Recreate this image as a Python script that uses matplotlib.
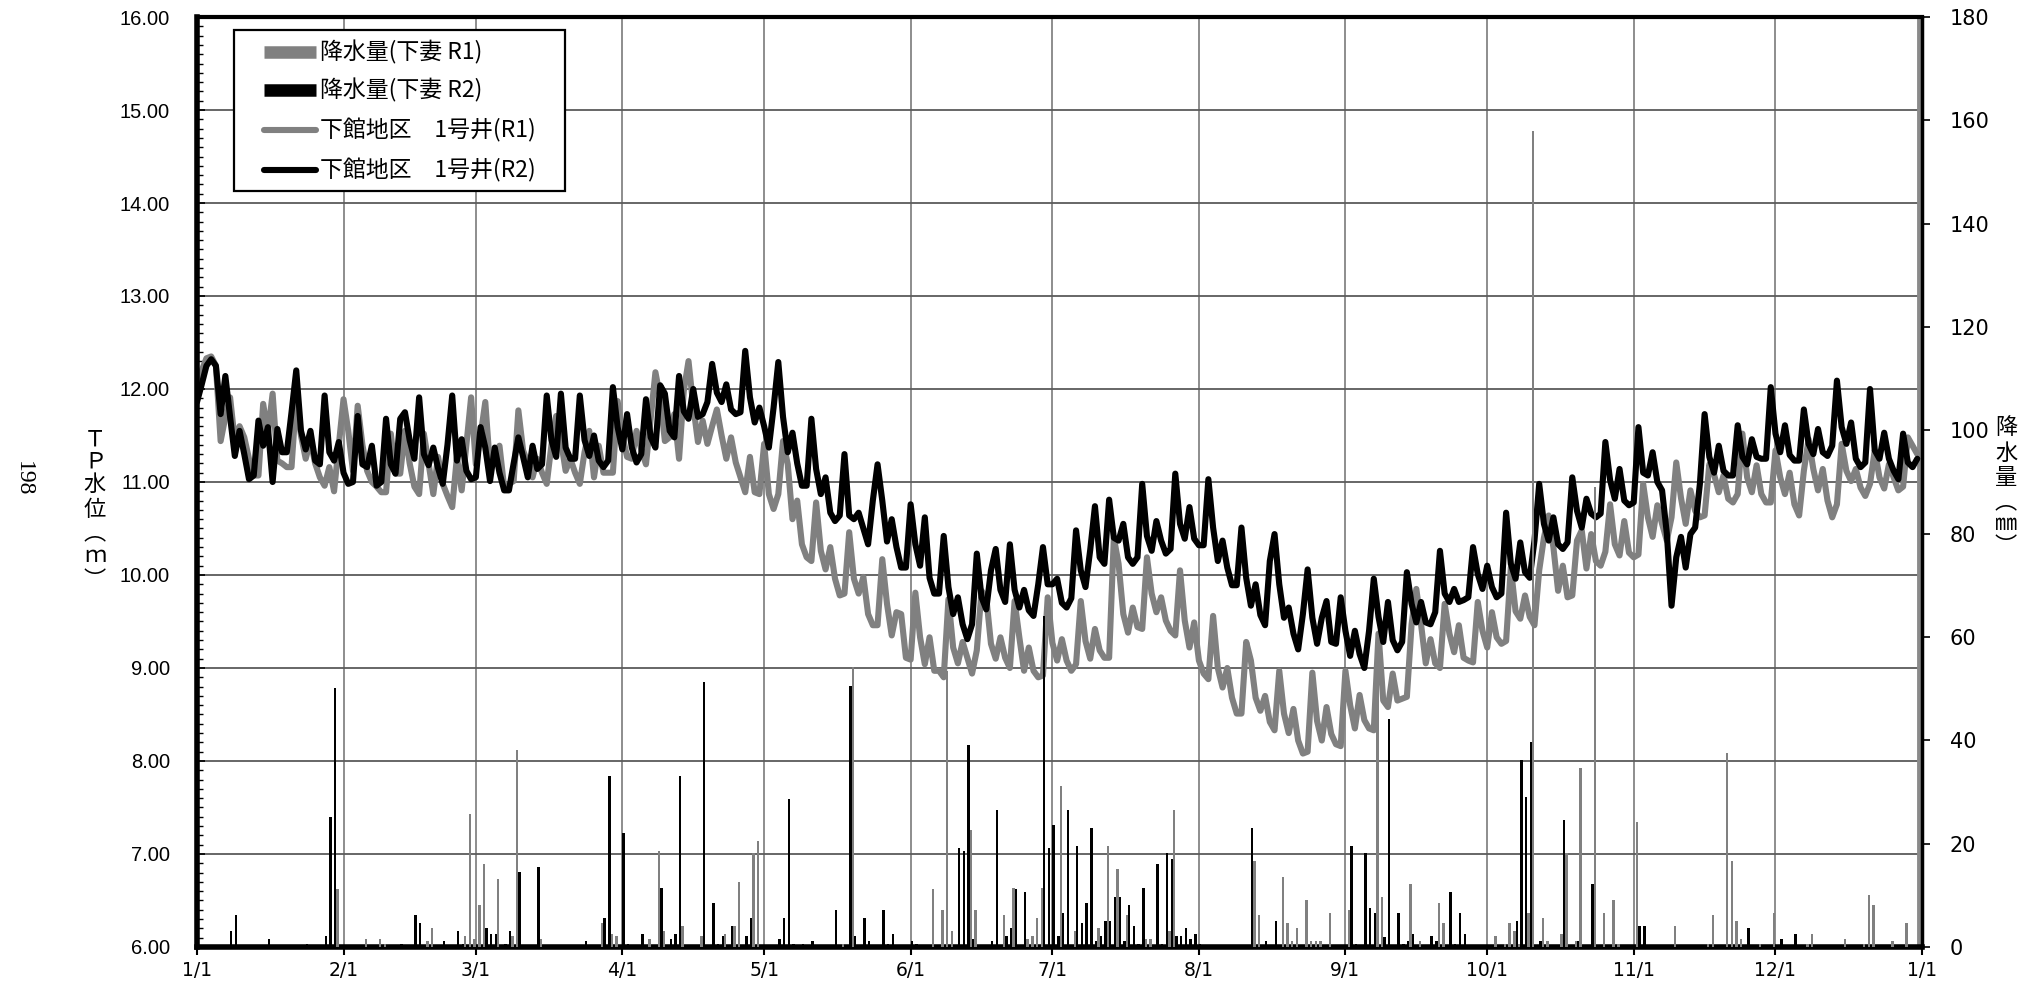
import numpy as np
import matplotlib
matplotlib.use('Agg')
import matplotlib.pyplot as plt
from matplotlib.lines import Line2D
from matplotlib.patches import Rectangle
from matplotlib.ticker import MultipleLocator, FormatStrFormatter

JP = ['Noto Sans CJK JP', 'DejaVu Sans']
plt.rcParams['font.family'] = JP

# ---------------- data ----------------
month_labels = ['1/1', '2/1', '3/1', '4/1', '5/1', '6/1', '7/1', '8/1', '9/1',
                '10/1', '11/1', '12/1', '1/1']
month_lengths = [31, 28, 31, 30, 31, 30, 31, 31, 30, 31, 30, 31]

# 下館地区 1号井 (R2) daily water level, TP m
r2_jan = [11.86, 12.05, 12.25, 12.32, 12.25, 11.73, 12.14, 11.70, 11.28, 11.55, 11.30, 11.03, 11.07, 11.66, 11.39, 11.59,
          11.00, 11.57, 11.32, 11.32, 11.75, 12.20, 11.55, 11.35, 11.55, 11.23, 11.19, 11.93, 11.32, 11.23, 11.43]
r2_feb = [11.10, 10.98, 11.00, 11.71, 11.19, 11.16, 11.39, 10.96, 11.00, 11.68, 11.19, 11.09, 11.68, 11.75, 11.45, 11.25,
          11.91, 11.30, 11.18, 11.37, 11.15, 10.98, 11.40, 11.93, 11.23, 11.46, 11.12, 11.03]
r2_mar = [11.05, 11.59, 11.37, 11.01, 11.37, 11.10, 10.91, 10.91, 11.20, 11.48, 11.27, 11.05, 11.39, 11.14, 11.19, 11.93,
          11.45, 11.27, 11.95, 11.37, 11.25, 11.25, 11.93, 11.45, 11.28, 11.50, 11.23, 11.16, 11.23, 12.02, 11.59]
r2_apr = [11.35, 11.73, 11.37, 11.21, 11.30, 11.89, 11.48, 11.37, 12.04, 11.95, 11.55, 11.48, 12.14, 11.76, 11.68, 12.00,
          11.70, 11.73, 11.86, 12.27, 11.96, 11.86, 12.05, 11.78, 11.73, 11.75, 12.41, 11.91, 11.64, 11.80]
r2_may = [11.60, 11.37, 11.80, 12.29, 11.70, 11.32, 11.53, 11.20, 10.96, 10.96, 11.68, 11.14, 10.87, 11.05, 10.67, 10.58,
          10.64, 11.30, 10.64, 10.60, 10.67, 10.50, 10.33, 10.80, 11.19, 10.80, 10.36, 10.60, 10.30, 10.08, 10.08]
r2_jun = [10.76, 10.33, 10.10, 10.62, 9.97, 9.80, 9.80, 10.42, 9.87, 9.58, 9.76, 9.47, 9.31, 9.47, 10.23, 9.76,
          9.63, 10.05, 10.28, 9.84, 9.71, 10.33, 9.84, 9.65, 9.84, 9.62, 9.56, 9.90, 10.30, 9.90]
r2_jul = [9.90, 9.96, 9.70, 9.65, 9.75, 10.48, 10.05, 9.87, 10.27, 10.74, 10.19, 10.12, 10.81, 10.40, 10.37, 10.55,
          10.19, 10.12, 10.19, 10.98, 10.42, 10.26, 10.58, 10.37, 10.23, 10.28, 11.09, 10.55, 10.39, 10.73, 10.39]
r2_aug = [10.32, 10.32, 11.03, 10.51, 10.15, 10.37, 10.08, 9.89, 9.89, 10.51, 9.97, 9.67, 9.90, 9.57, 9.46, 10.15,
          10.44, 9.90, 9.54, 9.65, 9.37, 9.20, 9.58, 10.06, 9.54, 9.26, 9.54, 9.72, 9.28, 9.26, 9.76]
r2_sep = [9.40, 9.13, 9.40, 9.15, 9.00, 9.40, 9.96, 9.55, 9.28, 9.71, 9.30, 9.19, 9.28, 10.03, 9.69, 9.49,
          9.71, 9.49, 9.47, 9.60, 10.26, 9.80, 9.71, 9.85, 9.71, 9.73, 9.76, 10.30, 10.01, 9.85]
r2_oct = [10.10, 9.87, 9.76, 9.80, 10.67, 10.12, 9.96, 10.35, 10.03, 9.97, 10.37, 10.98, 10.55, 10.37, 10.62, 10.33,
          10.28, 10.35, 11.05, 10.69, 10.51, 10.82, 10.66, 10.62, 10.66, 11.43, 11.02, 10.82, 11.14, 10.80, 10.75]
r2_nov = [10.78, 11.59, 11.10, 11.07, 11.32, 11.00, 10.91, 10.45, 9.67, 10.19, 10.41, 10.08, 10.44, 10.51, 10.98, 11.73,
          11.27, 11.10, 11.39, 11.12, 11.07, 11.07, 11.61, 11.27, 11.19, 11.46, 11.27, 11.25, 11.25, 12.02]
r2_dec = [11.52, 11.32, 11.61, 11.29, 11.23, 11.23, 11.78, 11.41, 11.30, 11.57, 11.32, 11.28, 11.39, 12.09, 11.59, 11.41,
          11.64, 11.25, 11.16, 11.21, 12.00, 11.34, 11.25, 11.53, 11.25, 11.12, 11.03, 11.52, 11.21, 11.16, 11.25]

# 下館地区 1号井 (R1) daily water level, TP m
r1_jan = [11.90, 12.20, 12.33, 12.35, 12.25, 11.44, 11.70, 11.91, 11.44, 11.60, 11.48, 11.25, 11.07, 11.07, 11.84, 11.52,
          11.95, 11.23, 11.20, 11.16, 11.16, 11.91, 11.50, 11.25, 11.45, 11.20, 11.05, 10.96, 11.16, 10.90, 11.40]
r1_feb = [11.89, 11.55, 11.12, 11.82, 11.40, 11.12, 11.00, 10.95, 10.89, 10.89, 11.52, 11.09, 11.09, 11.55, 11.20, 10.95,
          10.87, 11.52, 11.20, 10.87, 11.27, 10.98, 10.85, 10.73, 11.27, 10.91, 11.40, 11.91]
r1_mar = [11.19, 11.50, 11.86, 11.16, 11.30, 11.39, 10.94, 10.98, 11.01, 11.77, 11.34, 11.20, 11.05, 11.25, 11.10, 10.98,
          11.40, 11.71, 11.45, 11.12, 11.25, 11.10, 10.98, 11.32, 11.55, 11.05, 11.39, 11.10, 11.10, 11.10, 11.87]
r1_apr = [11.50, 11.27, 11.25, 11.55, 11.35, 11.19, 11.68, 12.18, 11.91, 11.44, 11.48, 11.73, 11.25, 11.98, 12.30, 11.82,
          11.43, 11.66, 11.41, 11.60, 11.78, 11.50, 11.25, 11.48, 11.21, 11.05, 10.89, 11.27, 10.89, 10.87]
r1_may = [11.41, 10.87, 10.71, 10.87, 11.44, 11.19, 10.60, 10.80, 10.33, 10.19, 10.15, 10.78, 10.26, 10.06, 10.30, 9.96,
          9.78, 9.80, 10.46, 9.96, 9.80, 9.98, 9.58, 9.46, 9.46, 10.17, 9.69, 9.35, 9.60, 9.58, 9.11]
r1_jun = [9.09, 9.81, 9.33, 9.04, 9.33, 8.97, 8.97, 8.90, 9.74, 9.22, 9.05, 9.28, 9.11, 8.94, 9.19, 9.83,
          9.76, 9.26, 9.10, 9.33, 9.11, 9.00, 9.72, 9.33, 8.97, 9.22, 8.97, 8.90, 8.92, 9.76]
r1_jul = [9.27, 9.08, 9.31, 9.08, 8.97, 9.04, 9.72, 9.29, 9.10, 9.42, 9.19, 9.11, 9.11, 10.40, 10.12, 9.58,
          9.38, 9.65, 9.44, 9.42, 10.19, 9.80, 9.60, 9.76, 9.51, 9.40, 9.35, 10.05, 9.51, 9.22, 9.49]
r1_aug = [9.08, 8.94, 8.88, 9.56, 9.00, 8.79, 9.00, 8.68, 8.51, 8.51, 9.28, 9.08, 8.68, 8.54, 8.70, 8.42,
          8.33, 8.97, 8.51, 8.30, 8.56, 8.22, 8.08, 8.10, 8.95, 8.43, 8.22, 8.58, 8.29, 8.18, 8.16]
r1_sep = [8.97, 8.60, 8.35, 8.71, 8.44, 8.35, 8.33, 9.37, 8.65, 8.58, 8.94, 8.65, 8.67, 8.69, 9.47, 9.85,
          9.47, 9.05, 9.31, 9.05, 9.00, 9.69, 9.37, 9.17, 9.46, 9.11, 9.08, 9.06, 9.71, 9.40]
r1_oct = [9.22, 9.60, 9.33, 9.26, 9.29, 10.08, 9.61, 9.53, 9.78, 9.55, 9.46, 10.05, 10.40, 10.64, 10.30, 9.83,
          10.10, 9.76, 9.78, 10.37, 10.48, 10.07, 10.44, 10.15, 10.10, 10.25, 10.76, 10.33, 10.21, 10.58, 10.24]
r1_nov = [10.19, 10.22, 10.98, 10.62, 10.41, 10.75, 10.55, 10.37, 10.62, 11.21, 10.83, 10.55, 10.91, 10.69, 10.62, 10.64,
          11.19, 11.08, 10.89, 11.07, 10.82, 10.78, 10.87, 11.52, 11.05, 10.89, 11.18, 10.87, 10.78, 10.78]
r1_dec = [11.34, 11.05, 10.87, 11.10, 10.76, 10.64, 11.12, 11.46, 11.14, 10.91, 11.14, 10.80, 10.62, 10.76, 11.41, 11.12,
          11.01, 11.14, 10.94, 10.85, 10.98, 11.34, 11.05, 10.93, 11.19, 11.05, 10.91, 10.95, 11.48, 11.39, 11.30]

# 降水量 (下妻 R1): day-of-year and mm
rain_r1_day = [30, 36, 39, 40, 49, 50, 57, 58, 59, 60, 61, 64, 67, 68, 73, 86, 88, 89, 96, 98, 99, 103, 107, 112, 114,
               115, 118, 119, 137, 139, 156, 158, 159, 160, 164, 165, 171, 173, 176, 177, 178, 179, 183, 186, 191, 193,
               195, 197, 201, 202, 206, 207, 224, 225, 230, 231, 232, 233, 235, 236, 237, 238, 240, 244, 250, 251, 257,
               259, 263, 264, 275, 277, 278, 279, 280, 282, 283, 285, 286, 289, 290, 292, 293, 296, 298, 300, 301, 305,
               313, 320, 321, 324, 325, 326, 327, 331, 334, 341, 342, 349, 353, 354, 355, 359, 362]
rain_r1_mm = [11.2, 1.6, 1.6, 0.6, 1.1, 3.6, 2.1, 25.7, 1.6, 8.1, 16.1, 13.1, 2.1, 38.1, 1.6, 4.6, 2.6, 2.1, 1.6, 18.6,
              3.1, 4.1, 2.1, 2.6, 4.1, 12.6, 18.1, 20.6, 0.6, 54.1, 11.2, 7.1, 53.5, 3.1, 22.6, 7.1, 6.1, 11.5, 1.6, 2.1,
              5.6, 11.5, 31.2, 3.1, 3.6, 19.6, 15.1, 6.1, 1.6, 1.6, 3.1, 26.6, 16.6, 6.1, 13.6, 4.6, 1.1, 3.6, 9.1, 1.1,
              1.1, 1.1, 6.6, 7.1, 53.5, 9.6, 12.1, 1.1, 8.6, 4.6, 2.1, 0.6, 4.6, 3.1, 0.6, 6.5, 158.0, 5.6, 1.1, 2.6,
              18.1, 1.1, 34.7, 89.0, 6.6, 9.1, 0.6, 24.1, 4.1, 0.6, 6.1, 37.6, 16.6, 5.0, 1.6, 0.6, 6.6, 0.6, 2.6, 1.6,
              0.6, 10.1, 8.1, 1.1, 4.6]

# 降水量 (下妻 R2): day-of-year and mm
rain_r2_day = [7, 8, 15, 23, 27, 28, 29, 43, 46, 47, 52, 55, 56, 60, 61, 62, 63, 65, 66, 68, 72, 82, 86, 87, 90, 91, 94,
               98, 100, 101, 102, 107, 109, 110, 111, 113, 116, 117, 123, 124, 125, 126, 128, 130, 135, 138, 139, 141,
               142, 145, 146, 147, 151, 152, 161, 162, 163, 164, 168, 169, 171, 172, 173, 175, 179, 180, 181, 182, 183,
               184, 186, 187, 188, 189, 190, 191, 192, 193, 194, 195, 196, 197, 198, 199, 200, 203, 204, 205, 206, 207,
               208, 209, 210, 211, 212, 223, 226, 228, 244, 245, 247, 248, 249, 251, 252, 254, 255, 256, 257, 261, 262,
               265, 266, 267, 268, 279, 280, 281, 282, 284, 289, 292, 295, 305, 306, 328, 335, 338]
rain_r2_mm = [3.1, 6.1, 1.6, 0.5, 2.1, 25.1, 50.2, 0.6, 6.1, 4.6, 1.1, 3.1, 0.6, 0.4, 3.6, 2.6, 2.6, 0.6, 3.1, 14.6, 15.5,
              1.1, 5.6, 33.1, 22.1, 0.6, 2.6, 11.5, 1.6, 2.6, 33.1, 51.2, 8.6, 0.6, 2.1, 4.1, 2.1, 5.6, 1.6, 5.6, 28.6,
              0.6, 0.6, 1.1, 7.1, 50.6, 2.1, 5.6, 1.1, 7.1, 0.6, 2.6, 1.1, 0.6, 19.1, 18.6, 39.1, 1.6, 1.1, 26.6, 2.1,
              3.6, 11.2, 10.6, 64.0, 19.1, 23.6, 2.1, 6.6, 26.6, 19.6, 4.6, 8.6, 23.1, 1.1, 2.1, 5.0, 5.0, 9.6, 9.6,
              1.1, 8.1, 4.1, 0.6, 11.5, 16.1, 0.6, 18.1, 17.1, 2.1, 2.1, 3.6, 1.6, 2.6, 0.6, 23.1, 1.1, 5.0, 19.6, 0.6,
              18.1, 7.6, 6.6, 2.0, 44.1, 6.6, 0.6, 1.1, 2.6, 2.1, 1.1, 10.6, 0.6, 6.6, 2.6, 5.0, 36.2, 29.1, 39.6, 1.1,
              24.6, 1.1, 12.1, 4.1, 4.1, 3.6, 1.6, 2.6]

legend_labels = ['降水量(下妻 R1)', '降水量(下妻 R2)', '下館地区　1号井(R1)', '下館地区　1号井(R2)']

# ---------------- build ----------------
r1_level = np.array(r1_jan + r1_feb + r1_mar + r1_apr + r1_may + r1_jun +
                    r1_jul + r1_aug + r1_sep + r1_oct + r1_nov + r1_dec)
r2_level = np.array(r2_jan + r2_feb + r2_mar + r2_apr + r2_may + r2_jun +
                    r2_jul + r2_aug + r2_sep + r2_oct + r2_nov + r2_dec)
days = np.arange(len(r2_level))
month_starts = np.concatenate([[0], np.cumsum(month_lengths)])

GRAY = '#808080'
W, H = 2036.0, 989.0

fig = plt.figure(figsize=(20.36, 9.89), dpi=100)
ax = fig.add_axes([0.09676, 0.04247, 0.84725, 0.94034])
ax.set_xlim(0, 365)
ax.set_ylim(6, 16)

# grid
for x in month_starts[1:-1]:
    ax.axvline(x, color='#858585', lw=1.3, zorder=0.5)
for y in range(7, 16):
    ax.axhline(y, color='#5a5a5a', lw=1.3, zorder=0.5)
ax.axvline(364.4, color='#8a8a8a', lw=3.5, zorder=0.5)

ax.plot(days, r1_level, color=GRAY, lw=4.4, solid_joinstyle='round', solid_capstyle='round', zorder=2)
ax.plot(days, r2_level, color='black', lw=4.4, solid_joinstyle='round', solid_capstyle='round', zorder=3)

ax.set_xticks(month_starts)
ax.set_xticklabels(month_labels, fontsize=13.5, family=['DejaVu Sans'])
ax.tick_params(axis='x', direction='out', length=6, width=1.5, pad=4)
ax.yaxis.set_major_locator(MultipleLocator(1))
ax.yaxis.set_minor_locator(MultipleLocator(0.1))
ax.yaxis.set_major_formatter(FormatStrFormatter('%.2f'))
ax.tick_params(axis='y', which='major', direction='in', length=6, width=1.2, pad=19.5, labelsize=14.5)
ax.tick_params(axis='y', which='minor', direction='in', length=4, width=1)
for lab in ax.get_yticklabels():
    lab.set_family(['Liberation Sans', 'DejaVu Sans'])

for s in ['left', 'bottom']:
    ax.spines[s].set_linewidth(4)
ax.spines['top'].set_linewidth(3)
ax.spines['right'].set_visible(False)

ax2 = ax.twinx()
ax2.set_ylim(0, 180)
ax2.bar(np.array(rain_r1_day) - 0.25, rain_r1_mm, width=0.5, color=GRAY, linewidth=0, zorder=2)
ax2.bar(np.array(rain_r2_day) + 0.25, rain_r2_mm, width=0.5, color='black', linewidth=0, zorder=3)
ax2.set_yticks(range(0, 181, 20))
ax2.tick_params(axis='y', direction='out', length=6, width=1.2, pad=14, labelsize=15)
for lab in ax2.get_yticklabels():
    lab.set_family(['DejaVu Sans'])
for s in ['left', 'top', 'bottom']:
    ax2.spines[s].set_visible(False)
ax2.spines['right'].set_linewidth(2.5)

# legend drawn in figure pixels of the reference layout
fig.add_artist(Rectangle((234 / W, 1 - 191 / H), 331 / W, 161 / H, transform=fig.transFigure,
                         facecolor='white', edgecolor='black', linewidth=1.6, zorder=10))
legend_rows = [52, 90, 130, 170]
legend_colors = [GRAY, 'black', GRAY, 'black']
legend_widths = [9, 9, 4.4, 4.4]
legend_caps = ['butt', 'butt', 'round', 'round']
for lab, yy, col, lw, cap in zip(legend_labels, legend_rows, legend_colors, legend_widths, legend_caps):
    fig.add_artist(Line2D([264 / W, 316 / W], [1 - yy / H, 1 - yy / H], transform=fig.transFigure,
                          color=col, lw=lw, solid_capstyle=cap, zorder=11))
    fig.text(320 / W, 1 - yy / H, lab, ha='left', va='center', fontsize=16.5, zorder=12)

# vertical axis titles
left_chars = ['Ｔ', 'Ｐ', '水', '位', '︵', 'ｍ', '︶']
left_ys = [439, 461, 484, 509, 533, 556, 580]
for c, y in zip(left_chars, left_ys):
    fig.text(95 / W, 1 - y / H, c, ha='center', va='center', fontsize=16)

right_chars = ['降', '水', '量', '︵', '㎜', '︶']
right_ys = [428, 453, 478, 502, 524, 546]
for c, y in zip(right_chars, right_ys):
    fig.text(2006 / W, 1 - y / H, c, ha='center', va='center', fontsize=16)

fig.text(23 / W, 1 - 479 / H, '198', ha='center', va='center', rotation=270,
         fontsize=17, family=['Liberation Serif', 'DejaVu Serif'])

fig.savefig('out.png', dpi=100)
